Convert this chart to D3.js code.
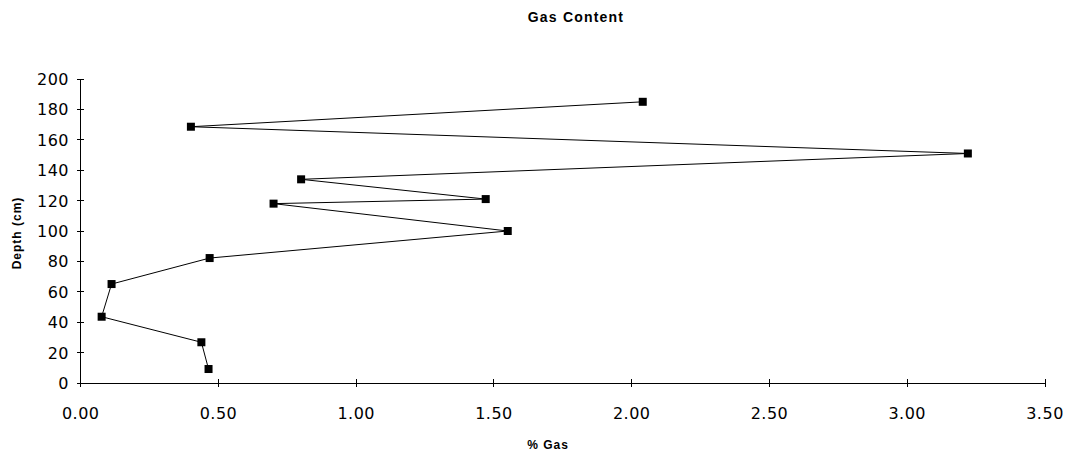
<!DOCTYPE html>
<html>
<head>
<meta charset="utf-8">
<script src="https://cdn.jsdelivr.net/npm/d3@7"></script>
<style>
  html, body { margin: 0; padding: 0; background: #fff; }
  svg { display: block; }
</style>
</head>
<body>
<svg id="chart" width="1072" height="457"></svg>
<script>
// Data
const depths = [9.2, 26.8, 43.6, 65.1, 82.2, 100, 118, 121, 134, 151, 168.6, 185];
const gasPct = [0.464, 0.438, 0.076, 0.112, 0.468, 1.55, 0.70, 1.47, 0.80, 3.22, 0.40, 2.04];
const xTicks = [0, 0.5, 1, 1.5, 2, 2.5, 3, 3.5];
const yTicks = [0, 20, 40, 60, 80, 100, 120, 140, 160, 180, 200];
const titleText = "Gas Content";
const xTitle = "% Gas";
const yTitle = "Depth (cm)";

const svg = d3.select("#chart");
const x = d3.scaleLinear().domain([0, 3.5]).range([80.7, 1045]);
const y = d3.scaleLinear().domain([0, 200]).range([383, 79]);
const font = "'DejaVu Sans', 'Liberation Sans', sans-serif";
const boldFont = "'Liberation Sans', Arial, sans-serif";

// Title
svg.append("text").attr("x", 576).attr("y", 22)
  .attr("text-anchor", "middle").attr("font-family", boldFont)
  .attr("font-weight", "bold").attr("font-size", 14).attr("letter-spacing", 1.2)
  .text(titleText);

// Axes lines
const g = svg.append("g").attr("stroke", "#000").attr("stroke-width", 1).attr("shape-rendering", "crispEdges");
g.append("line").attr("x1", x(0)).attr("x2", x(0)).attr("y1", y(200)).attr("y2", y(0));
g.append("line").attr("x1", x(0)).attr("x2", x(3.5)).attr("y1", y(0)).attr("y2", y(0));
yTicks.forEach(t => {
  g.append("line").attr("x1", x(0) - 4).attr("x2", x(0) + 3).attr("y1", y(t)).attr("y2", y(t));
});
xTicks.forEach(t => {
  g.append("line").attr("x1", x(t)).attr("x2", x(t)).attr("y1", y(0) - 4).attr("y2", y(0) + 4);
});

// Tick labels
svg.append("g").selectAll("text").data(yTicks).join("text")
  .attr("x", 69).attr("y", d => y(d) + 6)
  .attr("text-anchor", "end").attr("font-family", font).attr("font-size", 16).attr("letter-spacing", 0.5)
  .text(d => d);
svg.append("g").selectAll("text").data(xTicks).join("text")
  .attr("x", d => x(d)).attr("y", 419)
  .attr("text-anchor", "middle").attr("font-family", font).attr("font-size", 16).attr("letter-spacing", 0.5)
  .text(d => d3.format(".2f")(d));

// Axis titles
svg.append("text").attr("x", 548).attr("y", 449)
  .attr("text-anchor", "middle").attr("font-family", boldFont)
  .attr("font-weight", "bold").attr("font-size", 12).attr("letter-spacing", 1)
  .text(xTitle);
svg.append("text").attr("transform", "translate(21,233) rotate(-90)")
  .attr("text-anchor", "middle").attr("font-family", boldFont)
  .attr("font-weight", "bold").attr("font-size", 12).attr("letter-spacing", 1)
  .text(yTitle);

// Data
const pts = depths.map((d, i) => ({ d, v: gasPct[i] }));
const line = d3.line().x(p => x(p.v)).y(p => y(p.d));
svg.append("path").datum(pts).attr("d", line)
  .attr("fill", "none").attr("stroke", "#000").attr("stroke-width", 1);
svg.append("g").selectAll("rect").data(pts).join("rect")
  .attr("x", p => x(p.v) - 4).attr("y", p => y(p.d) - 4)
  .attr("width", 8).attr("height", 8).attr("fill", "#000");
</script>
</body>
</html>
